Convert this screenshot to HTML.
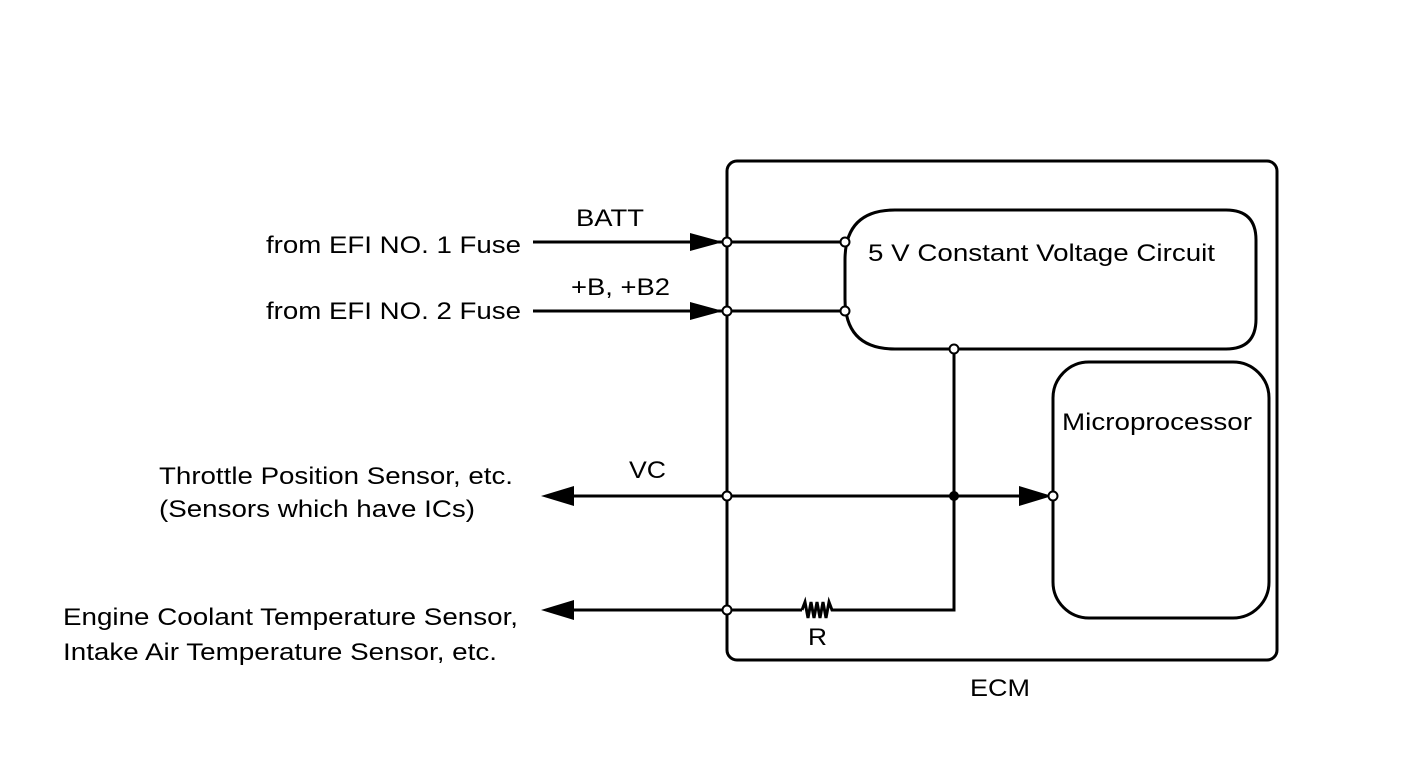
<!DOCTYPE html>
<html><head><style>
html,body{margin:0;padding:0;background:#fff;}
svg text{font-family:"Liberation Sans",Arial,sans-serif;font-size:24px;fill:#000;}
</style></head><body>
<svg width="1424" height="759" viewBox="0 0 1424 759" xmlns="http://www.w3.org/2000/svg">
<g fill="none" stroke="#000" stroke-width="3">
<rect x="727" y="161" width="550" height="499" rx="10"/>
<path d="M895,210 H1226 Q1256,210 1256,240 V319 Q1256,349 1226,349 H895 Q845,349 845,299 V260 Q845,210 895,210 Z"/>
<rect x="1053" y="362" width="216" height="256" rx="36"/>
<line x1="533" y1="242" x2="845" y2="242"/>
<line x1="533" y1="311" x2="845" y2="311"/>
<line x1="560" y1="496" x2="1040" y2="496"/>
<line x1="560" y1="610" x2="802" y2="610"/>
<polyline points="802,610 805,602 808,618 811,602 814,618 817,602 820,618 823,602 826,618 829,602 832,610 835,610 954,610 954,349"/>
</g>
<g fill="#000">
<polygon points="690,233 723,242 690,251"/>
<polygon points="690,302 723,311 690,320"/>
<polygon points="541,496 574,486 574,506"/>
<polygon points="541,610 574,600 574,620"/>
<polygon points="1019,486 1052,496 1019,506"/>
<circle cx="954" cy="496" r="5"/>
</g>
<g fill="#fff" stroke="#000" stroke-width="2">
<circle cx="727" cy="242" r="4.5"/><circle cx="845" cy="242" r="4.5"/>
<circle cx="727" cy="311" r="4.5"/><circle cx="845" cy="311" r="4.5"/>
<circle cx="954" cy="349" r="4.5"/><circle cx="1053" cy="496" r="4.5"/>
<circle cx="727" cy="496" r="4.5"/><circle cx="727" cy="610" r="4.5"/>
</g>
<g lengthAdjust="spacingAndGlyphs">
<text x="266" y="253" textLength="255" lengthAdjust="spacingAndGlyphs">from EFI NO. 1 Fuse</text>
<text x="266" y="319" textLength="255" lengthAdjust="spacingAndGlyphs">from EFI NO. 2 Fuse</text>
<text x="576" y="226" textLength="68" lengthAdjust="spacingAndGlyphs">BATT</text>
<text x="571" y="295" textLength="99" lengthAdjust="spacingAndGlyphs">+B, +B2</text>
<text x="629" y="478" textLength="37" lengthAdjust="spacingAndGlyphs">VC</text>
<text x="159" y="484" textLength="354" lengthAdjust="spacingAndGlyphs">Throttle Position Sensor, etc.</text>
<text x="159" y="517" textLength="316" lengthAdjust="spacingAndGlyphs">(Sensors which have ICs)</text>
<text x="63" y="625" textLength="455" lengthAdjust="spacingAndGlyphs">Engine Coolant Temperature Sensor,</text>
<text x="63" y="660" textLength="434" lengthAdjust="spacingAndGlyphs">Intake Air Temperature Sensor, etc.</text>
<text x="808" y="645" textLength="19" lengthAdjust="spacingAndGlyphs">R</text>
<text x="970" y="696" textLength="60" lengthAdjust="spacingAndGlyphs">ECM</text>
<text x="868" y="261" textLength="347" lengthAdjust="spacingAndGlyphs">5 V Constant Voltage Circuit</text>
<text x="1062" y="430" textLength="190" lengthAdjust="spacingAndGlyphs">Microprocessor</text>
</g>
</svg>
</body></html>
